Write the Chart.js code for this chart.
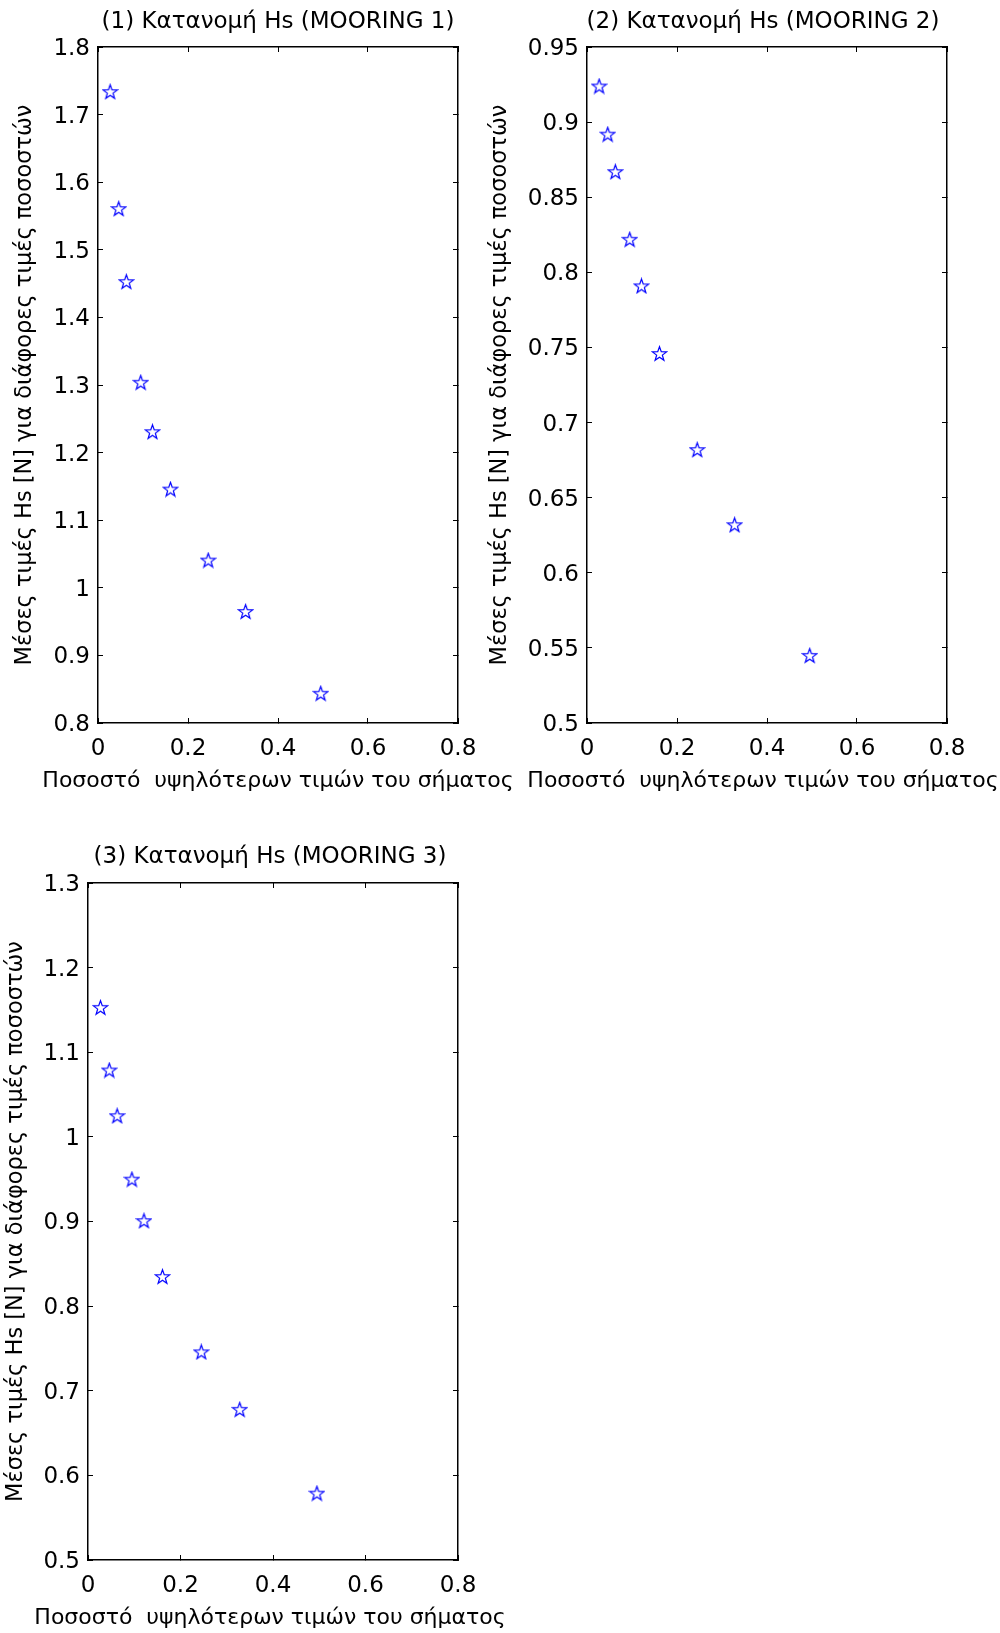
<!DOCTYPE html>
<html>
<head>
<meta charset="utf-8">
<script src="https://cdn.jsdelivr.net/npm/chart.js@4.4.1/dist/chart.umd.min.js"></script>
<style>
  html, body { margin: 0; padding: 0; background: #fff; overflow: hidden; }
  body { position: relative; width: 1000px; height: 1633px; }
  canvas { position: absolute; }
</style>
</head>
<body>
<canvas id="chart1" width="556" height="800" style="left:0px;top:0px"></canvas>
<canvas id="chart2" width="576" height="800" style="left:475px;top:0px"></canvas>
<canvas id="chart3" width="540" height="803" style="left:0px;top:830px"></canvas>
<script>
// share of highest values of the signal (x), same for all three moorings
const pctX = [0.027, 0.046, 0.063, 0.095, 0.121, 0.161, 0.245, 0.328, 0.495];

const hsMooring1 = [1.734, 1.561, 1.453, 1.304, 1.231, 1.146, 1.041, 0.965, 0.844];
const hsMooring2 = [0.924, 0.892, 0.867, 0.822, 0.791, 0.746, 0.682, 0.632, 0.545];
const hsMooring3 = [1.153, 1.079, 1.025, 0.950, 0.901, 0.835, 0.746, 0.678, 0.579];

const xTicks = [0, 0.2, 0.4, 0.6, 0.8];
const yTicks1 = [0.8, 0.9, 1, 1.1, 1.2, 1.3, 1.4, 1.5, 1.6, 1.7, 1.8];
const yTicks2 = [0.5, 0.55, 0.6, 0.65, 0.7, 0.75, 0.8, 0.85, 0.9, 0.95];
const yTicks3 = [0.5, 0.6, 0.7, 0.8, 0.9, 1, 1.1, 1.2, 1.3];

const chartTitles = [
  "(1) Κατανομή Hs (MOORING 1)",
  "(2) Κατανομή Hs (MOORING 2)",
  "(3) Κατανομή Hs (MOORING 3)"
];
const xLabel = "Ποσοστό  υψηλότερων τιμών του σήματος";
const yLabel = "Μέσες τιμές Hs [N] για διάφορες τιμές ποσοστών";

const FONT = "'DejaVu Sans', 'Liberation Sans', Arial, sans-serif";

// MATLAB-like pentagram marker
function starMarker(size, color) {
  const c = document.createElement("canvas");
  c.width = size;
  c.height = size;
  const g = c.getContext("2d");
  const cx = size / 2, cy = size / 2 + 0.7;
  const R = size / 2 - 1, r = R * 0.4;
  g.beginPath();
  for (let i = 0; i < 10; i++) {
    const rad = i % 2 ? r : R;
    const a = -Math.PI / 2 + i * Math.PI / 5;
    g.lineTo(cx + rad * Math.cos(a), cy + rad * Math.sin(a));
  }
  g.closePath();
  g.strokeStyle = color;
  g.lineWidth = 1.2;
  g.stroke();
  return c;
}

const star = starMarker(17, "#0000ff");

function tickList(values) {
  return scale => { scale.ticks = values.map(v => ({ value: v })); };
}

function makeChart(id, idx, yValues, yTicks, lay) {
  const ctx = document.getElementById(id).getContext("2d");
  const font = { family: FONT, size: 23, weight: "normal" };
  const xlabFont = { family: FONT, size: 22, weight: "normal" };
  const ylabFont = { family: FONT, size: 22.5, weight: "normal" };
  const inTicks = { display: true, drawOnChartArea: false, drawTicks: true, tickLength: -5, color: "#000", lineWidth: 1 };
  const frame = { display: true, color: "#000", width: 1.5 };
  const yMin = yTicks[0], yMax = yTicks[yTicks.length - 1];

  return new Chart(ctx, {
    type: "scatter",
    data: {
      datasets: [{
        data: pctX.map((x, i) => ({ x: x, y: yValues[i] })),
        pointStyle: star,
        pointRadius: 7,
        showLine: false
      }]
    },
    options: {
      responsive: false,
      animation: false,
      devicePixelRatio: 1,
      layout: { padding: 0 },
      plugins: {
        legend: { display: false },
        tooltip: { enabled: false },
        title: {
          display: true,
          text: chartTitles[idx],
          color: "#000",
          font: font,
          padding: { top: lay.titleTop, bottom: lay.titleBottom }
        },
        subtitle: {
          display: true,
          position: "bottom",
          text: xLabel,
          color: "#000",
          font: xlabFont,
          padding: { top: lay.xlabTop, bottom: lay.xlabBottom }
        }
      },
      scales: {
        x: {
          type: "linear",
          position: "bottom",
          min: 0, max: 0.8,
          afterBuildTicks: tickList(xTicks),
          afterFit: s => { s.height = 44; },
          ticks: { color: "#000", font: font, padding: 17.5, maxRotation: 0, callback: v => String(v) },
          grid: inTicks,
          border: frame
        },
        xTop: {
          type: "linear",
          position: "top",
          min: 0, max: 0.8,
          afterBuildTicks: tickList(xTicks),
          afterFit: s => { s.height = 0; },
          ticks: { display: false },
          grid: inTicks,
          border: frame
        },
        y: {
          type: "linear",
          position: "left",
          min: yMin, max: yMax,
          afterBuildTicks: tickList(yTicks),
          afterFit: s => { s.width = lay.axisW; },
          ticks: { color: "#000", font: font, padding: 13, labelOffset: 2, callback: v => String(v) },
          grid: inTicks,
          border: frame,
          title: {
            display: true,
            text: yLabel,
            color: "#000",
            font: ylabFont,
            padding: { top: lay.ylabPad, bottom: 0 }
          }
        },
        yRight: {
          type: "linear",
          position: "right",
          min: yMin, max: yMax,
          afterBuildTicks: tickList(yTicks),
          afterFit: s => { s.width = lay.rightW; },
          ticks: { display: false },
          grid: inTicks,
          border: frame
        }
      }
    }
  });
}

makeChart("chart1", 0, hsMooring1, yTicks1,
  { axisW: 98, rightW: 98, titleTop: 8, titleBottom: 11.4, xlabTop: 1.3, xlabBottom: 5.3, ylabPad: 12 });
makeChart("chart2", 1, hsMooring2, yTicks2,
  { axisW: 112, rightW: 104, titleTop: 8, titleBottom: 11.4, xlabTop: 1.3, xlabBottom: 5.3, ylabPad: 12 });
makeChart("chart3", 2, hsMooring3, yTicks3,
  { axisW: 88, rightW: 82, titleTop: 13.5, titleBottom: 11.9, xlabTop: 1.0, xlabBottom: 1.6, ylabPad: 3 });
</script>
</body>
</html>
